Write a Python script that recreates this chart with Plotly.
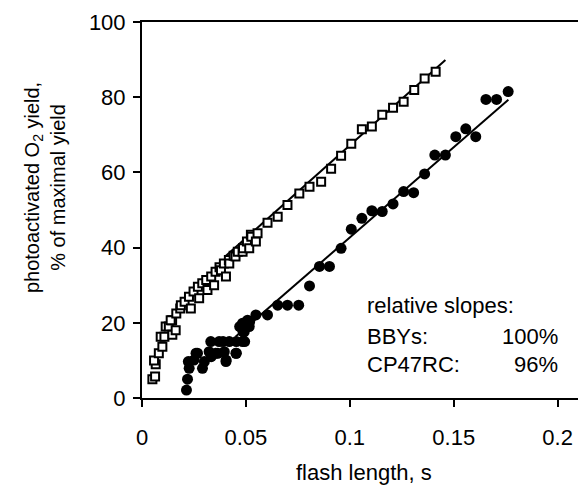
import plotly.graph_objects as go

# BBYs (open squares)
bby_x = [0.0050, 0.0063, 0.0066, 0.0058, 0.0081, 0.0098, 0.0090, 0.0108, 0.0114, 0.0129,
         0.0146, 0.0145, 0.0162, 0.0138, 0.0165, 0.0184, 0.0187, 0.0205, 0.0226, 0.0235,
         0.0248, 0.0269, 0.0275, 0.0290, 0.0309, 0.0315, 0.0333, 0.0347, 0.0354, 0.0373,
         0.0380, 0.0394, 0.0404, 0.0418, 0.0420, 0.0441, 0.0450, 0.0461, 0.0484, 0.0486,
         0.0505, 0.0516, 0.0524, 0.0526, 0.0548, 0.0556, 0.0604, 0.0653, 0.0700, 0.0757,
         0.0806, 0.0862, 0.0910, 0.0958, 0.1007, 0.1058, 0.1106, 0.1156, 0.1208, 0.1259,
         0.1310, 0.1360, 0.1413]
bby_y = [5.0, 5.7, 9.0, 10.0, 11.9, 13.6, 16.3, 16.3, 19.0, 19.0,
         16.8, 20.7, 18.0, 20.7, 22.5, 23.8, 24.7, 25.6, 26.9, 23.8,
         28.3, 29.6, 26.5, 30.5, 31.4, 28.7, 32.3, 30.0, 33.6, 34.8,
         34.0, 35.8, 32.3, 36.7, 35.8, 37.8, 37.6, 38.9, 38.9, 39.8,
         41.6, 39.8, 43.4, 42.9, 41.6, 43.8, 46.6, 48.2, 51.3, 54.4,
         56.2, 57.5, 61.0, 64.4, 67.6, 71.5, 72.2, 75.3, 77.2, 78.8,
         81.9, 85.0, 86.8]

# CP47RC (filled circles)
cp_x = [0.0214, 0.0219, 0.0227, 0.0223, 0.0250, 0.0267, 0.0260, 0.0291, 0.0300, 0.0323,
        0.0333, 0.0331, 0.0355, 0.0365, 0.0371, 0.0390, 0.0396, 0.0404, 0.0405, 0.0420,
        0.0452, 0.0454, 0.0454, 0.0470, 0.0484, 0.0486, 0.0494, 0.0492, 0.0484, 0.0516,
        0.0518, 0.0508, 0.0548, 0.0604, 0.0653, 0.0700, 0.0754, 0.0806, 0.0854, 0.0902,
        0.0958, 0.1007, 0.1058, 0.1106, 0.1156, 0.1208, 0.1259, 0.1307, 0.1360, 0.1409,
        0.1460, 0.1510, 0.1558, 0.1606, 0.1655, 0.1706, 0.1762]
cp_y = [2.1, 5.0, 7.9, 9.7, 10.1, 11.9, 11.9, 7.9, 9.7, 12.3,
        11.0, 15.0, 11.9, 11.9, 15.0, 15.0, 12.3, 9.7, 10.1, 15.0,
        11.9, 11.9, 15.0, 19.0, 15.0, 17.6, 15.0, 17.6, 19.9, 19.0,
        20.3, 20.7, 22.1, 22.1, 24.7, 24.7, 24.7, 29.8, 35.0, 35.0,
        39.8, 44.9, 47.8, 49.8, 49.6, 51.6, 54.9, 54.6, 59.6, 64.6,
        64.6, 69.5, 71.6, 69.5, 79.4, 79.4, 81.5]

# linear fits (endpoints)
bby_fit_x = [0.040, 0.146]
bby_fit_y = [37.6, 89.9]
cp_fit_x = [0.045, 0.1763]
cp_fit_y = [16.3, 79.3]

x_ticks = [0, 0.05, 0.1, 0.15, 0.2]
x_tick_labels = ["0", "0.05", "0.1", "0.15", "0.2"]
y_ticks = [0, 20, 40, 60, 80, 100]

FONT = "Liberation Sans, Arial, sans-serif"

fig = go.Figure()
fig.add_trace(go.Scatter(x=bby_fit_x, y=bby_fit_y, mode="lines",
                         line=dict(color="black", width=2), showlegend=False))
fig.add_trace(go.Scatter(x=cp_fit_x, y=cp_fit_y, mode="lines",
                         line=dict(color="black", width=2), showlegend=False))
fig.add_trace(go.Scatter(x=bby_x, y=bby_y, mode="markers", name="BBYs",
                         marker=dict(symbol="square", size=8, color="white",
                                     line=dict(color="black", width=2)),
                         showlegend=False))
fig.add_trace(go.Scatter(x=cp_x, y=cp_y, mode="markers", name="CP47RC",
                         marker=dict(symbol="circle", size=11, color="black",
                                     line=dict(width=0)),
                         showlegend=False))

fig.update_layout(
    width=578, height=487,
    margin=dict(l=142, r=0, t=22, b=89, autoexpand=False),
    paper_bgcolor="white", plot_bgcolor="white",
    font=dict(family=FONT, color="black", size=22),
    xaxis=dict(range=[0, 0.2098], tickvals=x_ticks, ticktext=x_tick_labels,
               automargin=False,
               showgrid=False, zeroline=False, showline=True, linecolor="black",
               linewidth=2, mirror=True, ticks="outside", ticklen=7, tickwidth=2,
               tickcolor="black", tickfont=dict(size=22), ticklabelstandoff=12),
    yaxis=dict(range=[0, 100], tickvals=y_ticks, automargin=False,
               showgrid=False, zeroline=False, showline=True, linecolor="black",
               linewidth=2, ticks="outside", ticklen=7, tickwidth=2,
               tickcolor="black", tickfont=dict(size=22), ticklabelstandoff=3),
    annotations=[
        dict(x=-0.221, y=0.56, xref="paper", yref="paper", showarrow=False,
             textangle=-90, xanchor="center", yanchor="middle",
             text="photoactivated O<sub>2</sub> yield,<br>% of maximal yield",
             font=dict(size=20)),
        dict(x=0.51, y=-0.197, xref="paper", yref="paper", showarrow=False,
             xanchor="center", yanchor="middle", text="flash length, s",
             font=dict(size=22)),
        dict(x=0.1071, y=24.7, xref="x", yref="y", showarrow=False,
             xanchor="left", yanchor="middle", text="relative slopes:", font=dict(size=22)),
        dict(x=0.1071, y=16.4, xref="x", yref="y", showarrow=False,
             xanchor="left", yanchor="middle", text="BBYs:", font=dict(size=22)),
        dict(x=0.2012, y=16.4, xref="x", yref="y", showarrow=False,
             xanchor="right", yanchor="middle", text="100%", font=dict(size=22)),
        dict(x=0.1071, y=8.9, xref="x", yref="y", showarrow=False,
             xanchor="left", yanchor="middle", text="CP47RC:", font=dict(size=22)),
        dict(x=0.2012, y=8.9, xref="x", yref="y", showarrow=False,
             xanchor="right", yanchor="middle", text="96%", font=dict(size=22)),
    ],
)

fig.write_html("out.html", config={"displayModeBar": False},
               post_script="document.body.style.margin='0';")
